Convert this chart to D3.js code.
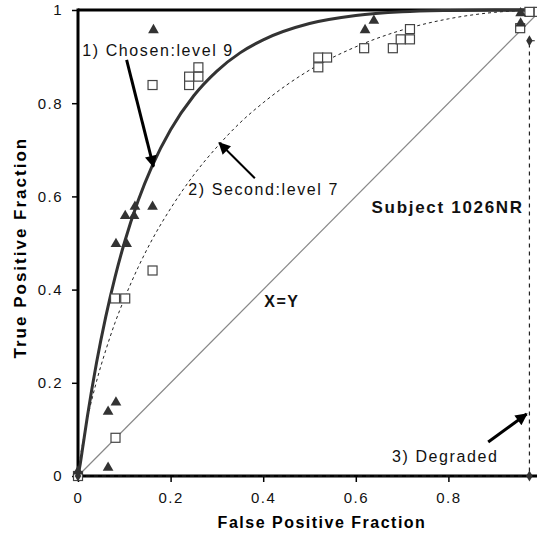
<!DOCTYPE html>
<html>
<head>
<meta charset="utf-8">
<script src="https://cdn.jsdelivr.net/npm/d3@7"></script>
<style>
	body { margin: 0; background: #fff; }
	svg { display: block; font-family: "Liberation Sans", Arial, sans-serif; }
	.tick text { font-size: 15px; letter-spacing: 1.5px; fill: #111; }
	.axis-title { font-size: 16px; font-weight: bold; letter-spacing: 1.5px; }
	.axis-title.y { font-size: 17px; letter-spacing: 2px; }
	.note { font-size: 16px; letter-spacing: 1.6px; fill: #111; }
	.note.bold { font-weight: bold; }
	.note.big { font-size: 17px; letter-spacing: 1.7px; }
</style>
</head>
<body>
<svg id="chart"></svg>
<script>
var W = 537, H = 543;
var margin = {top: 10, right: -4, bottom: 67, left: 78},
	width = W - margin.left - margin.right,
	height = H - margin.top - margin.bottom;

// fitted ROC curves
var chosenCurve = [[0,0],[0.005,0.027],[0.01,0.06],[0.02,0.126],[0.04,0.243],[0.06,0.342],
	[0.08,0.427],[0.10,0.50],[0.13,0.591],[0.16,0.665],[0.20,0.743],[0.25,0.816],
	[0.30,0.869],[0.35,0.908],[0.40,0.936],[0.50,0.971],[0.60,0.988],[0.70,0.996],
	[0.80,0.999],[0.90,1],[1,1]];
var secondCurve = [[0,0],[0.005,0.04],[0.01,0.07],[0.02,0.121],[0.04,0.203],[0.06,0.27],
	[0.08,0.329],[0.10,0.38],[0.13,0.448],[0.16,0.507],[0.20,0.574],[0.25,0.646],
	[0.30,0.706],[0.35,0.758],[0.40,0.801],[0.50,0.871],[0.60,0.921],[0.70,0.957],
	[0.80,0.981],[0.90,0.995],[1,1]];
var diagonal = [[0,0],[1,1]];
var degradedCurve = [[0,0],[0.975,0],[0.975,0.934],[1,0.934]];

// operating points
var chosenPoints = [[0,0.01],[0.065,0.018],[0.065,0.138],[0.082,0.158],[0.082,0.498],
	[0.105,0.498],[0.102,0.558],[0.121,0.558],[0.123,0.578],[0.161,0.578],[0.163,0.957],
	[0.62,0.957],[0.639,0.977],[0.956,0.971],[0.956,0.993]];
var secondPoints = [[0,0],[0.081,0.082],[0.08,0.381],[0.102,0.381],[0.161,0.441],
	[0.161,0.839],[0.24,0.839],[0.24,0.857],[0.26,0.857],[0.26,0.877],[0.519,0.877],
	[0.519,0.898],[0.538,0.898],[0.618,0.918],[0.68,0.918],[0.697,0.937],[0.717,0.937],
	[0.717,0.959],[0.955,0.961],[0.975,0.996],[0.995,0.996]];
var degradedPoints = [[0,0],[0.975,0],[0.975,0.934],[1,0.934]];

var xTicks = [0, 0.2, 0.4, 0.6, 0.8, 1];
var yTicks = [0, 0.2, 0.4, 0.6, 0.8, 1];

var labels = [
	{text: "1) Chosen:level 9", x: 0.009, y: 0.901, cls: "note"},
	{text: "2) Second:level 7", x: 0.238, y: 0.603, cls: "note"},
	{text: "Subject 1026NR", x: 0.634, y: 0.564, cls: "note bold big"},
	{text: "X=Y", x: 0.402, y: 0.363, cls: "note bold"},
	{text: "3) Degraded", x: 0.678, y: 0.029, cls: "note"}
];
var arrows = [
	{from: [0.105, 0.893], to: [0.163, 0.664], w: 3},
	{from: [0.382, 0.639], to: [0.305, 0.715], w: 2},
	{from: [0.886, 0.073], to: [0.969, 0.133], w: 3}
];

var svg = d3.select("#chart")
	.attr("width", W)
	.attr("height", H)
  .append("g")
	.attr("transform", "translate(" + margin.left + "," + margin.top + ")");

var x = d3.scaleLinear().domain([0, 1]).range([0, width]);
var y = d3.scaleLinear().domain([0, 1]).range([height, 0]);

svg.append("defs").append("marker")
	.attr("id", "head")
	.attr("viewBox", "0 0 10 10")
	.attr("refX", 9).attr("refY", 5)
	.attr("markerUnits", "userSpaceOnUse")
	.attr("markerWidth", 14).attr("markerHeight", 12)
	.attr("orient", "auto")
  .append("path")
	.attr("d", "M0,0L10,5L0,10z")
	.attr("fill", "#000");

// axes
var xAxis = svg.append("g")
	.attr("transform", "translate(0," + height + ")")
	.call(d3.axisBottom(x).tickValues(xTicks).tickFormat(d3.format("")).tickSize(6).tickPadding(10));
var yAxis = svg.append("g")
	.call(d3.axisLeft(y).tickValues(yTicks).tickFormat(d3.format("")).tickSize(6).tickPadding(9));
[xAxis, yAxis].forEach(function (a) {
	a.select(".domain").remove();
	a.selectAll(".tick line").attr("stroke", "#000").attr("stroke-width", 1.5);
});

svg.append("line")
	.attr("x1", x(0)).attr("x2", x(1))
	.attr("y1", y(1)).attr("y2", y(1))
	.attr("stroke", "#000").attr("stroke-width", 3);
svg.append("line")
	.attr("x1", x(0)).attr("x2", x(0))
	.attr("y1", y(1) - 1.5).attr("y2", y(0) + 1.5)
	.attr("stroke", "#000").attr("stroke-width", 3);
svg.append("line")
	.attr("x1", x(0)).attr("x2", x(1))
	.attr("y1", y(0)).attr("y2", y(0))
	.attr("stroke", "#000").attr("stroke-width", 3);

// curves
var line = d3.line()
	.x(function (d) { return x(d[0]); })
	.y(function (d) { return y(d[1]); });

svg.append("path").datum(diagonal)
	.attr("d", line)
	.attr("fill", "none").attr("stroke", "#888").attr("stroke-width", 1.2);
svg.append("path").datum(degradedCurve)
	.attr("d", line)
	.attr("fill", "none").attr("stroke", "#222").attr("stroke-width", 1.2)
	.attr("stroke-dasharray", "4,4");
svg.append("path").datum(secondCurve)
	.attr("d", line.curve(d3.curveMonotoneX))
	.attr("fill", "none").attr("stroke", "#222").attr("stroke-width", 1)
	.attr("stroke-dasharray", "3,3");
svg.append("path").datum(chosenCurve)
	.attr("d", line.curve(d3.curveMonotoneX))
	.attr("fill", "none").attr("stroke", "#333").attr("stroke-width", 3);

// points
svg.selectAll(".sq").data(secondPoints).enter().append("rect")
	.attr("class", "sq")
	.attr("x", function (d) { return x(d[0]) - 4.5; })
	.attr("y", function (d) { return y(d[1]) - 4.5; })
	.attr("width", 9).attr("height", 9)
	.attr("fill", "#fff").attr("stroke", "#444").attr("stroke-width", 1.2);
svg.selectAll(".tri").data(chosenPoints).enter().append("path")
	.attr("class", "tri")
	.attr("transform", function (d) { return "translate(" + x(d[0]) + "," + y(d[1]) + ")"; })
	.attr("d", d3.symbol(d3.symbolTriangle, 50))
	.attr("fill", "#333");
svg.selectAll(".dia").data(degradedPoints).enter().append("path")
	.attr("class", "dia")
	.attr("transform", function (d) { return "translate(" + x(d[0]) + "," + y(d[1]) + ")"; })
	.attr("d", d3.symbol(d3.symbolDiamond, 36))
	.attr("fill", "#333");

// annotations
svg.selectAll(".arrow").data(arrows).enter().append("line")
	.attr("class", "arrow")
	.attr("x1", function (d) { return x(d.from[0]); })
	.attr("y1", function (d) { return y(d.from[1]); })
	.attr("x2", function (d) { return x(d.to[0]); })
	.attr("y2", function (d) { return y(d.to[1]); })
	.attr("stroke", "#000")
	.attr("stroke-width", function (d) { return d.w; })
	.attr("marker-end", "url(#head)");

svg.selectAll(".lbl").data(labels).enter().append("text")
	.attr("class", function (d) { return d.cls; })
	.attr("x", function (d) { return x(d.x); })
	.attr("y", function (d) { return y(d.y); })
	.text(function (d) { return d.text; });

svg.append("text")
	.attr("class", "axis-title")
	.attr("x", x(0.527))
	.attr("y", height + 52)
	.attr("text-anchor", "middle")
	.text("False Positive Fraction");
svg.append("text")
	.attr("class", "axis-title y")
	.attr("transform", "translate(" + (-52) + "," + y(0.49) + ") rotate(-90)")
	.attr("text-anchor", "middle")
	.text("True Positive Fraction");
</script>
</body>
</html>
